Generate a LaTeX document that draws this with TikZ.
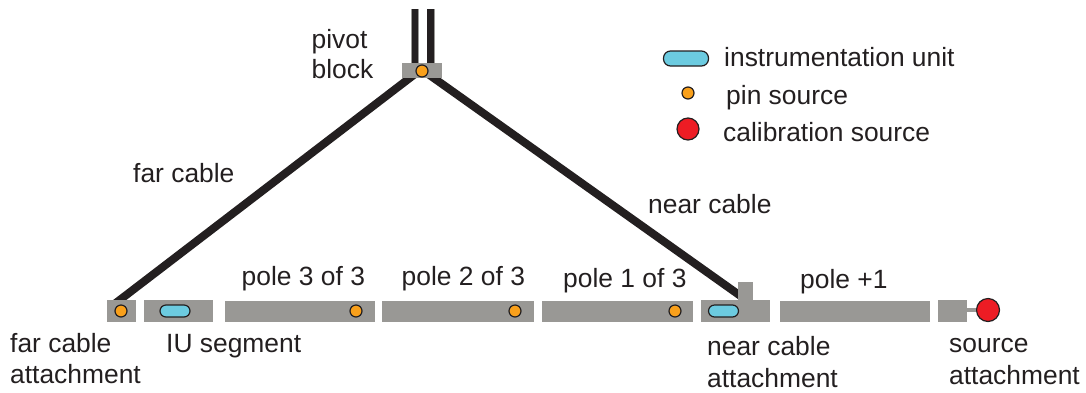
\documentclass[tikz,border=0pt]{standalone}
\usepackage{fontspec}
\setmainfont{Liberation Sans}
\usetikzlibrary{backgrounds}
\definecolor{polegray}{HTML}{999895}
\definecolor{cableblack}{HTML}{231F20}
\definecolor{pinorange}{HTML}{F9A01B}
\definecolor{iublue}{HTML}{6CCBE0}
\definecolor{calred}{HTML}{ED1C24}
\tikzset{
  seg/.style={fill=polegray, inner sep=0pt, minimum height=22pt},
  pin/.style={circle, draw=cableblack, line width=1.2pt, fill=pinorange, inner sep=0pt, minimum size=12pt},
  calsource/.style={circle, draw=cableblack, line width=1.2pt, fill=calred, inner sep=0pt, minimum size=23pt},
  iu/.style={rounded corners=6pt, draw=cableblack, line width=1.2pt, fill=iublue, inner sep=0pt},
  cable/.style={line width=8pt, cableblack, shorten <=-6pt, shorten >=-6pt},
  wire/.style={line width=6.5pt, cableblack},
  wireedge/.style={line width=8pt, polegray},
  lab/.style={anchor=base west, inner sep=0pt, text=cableblack, font=\fontsize{26.4}{30}\selectfont},
}
\begin{document}
\begin{tikzpicture}[x=1pt,y=-1pt]
\useasboundingbox (0,0) rectangle (1086,392);
\node[seg, minimum width=40pt, minimum height=15pt] (pivot) at (422,70.5) {};
\node[seg, minimum width=29pt] (farattach) at (121.5,311) {};
\node[seg, minimum width=69pt] (iuseg) at (178.5,311) {};
\node[seg, minimum width=150pt, minimum height=21pt] (pole3) at (300,311.5) {};
\node[seg, minimum width=152pt, minimum height=21pt] (pole2) at (458,311.5) {};
\node[seg, minimum width=151pt, minimum height=21pt] (pole1) at (617.5,311.5) {};
\node[seg, minimum width=69pt] (nearattach) at (735.5,311) {};
\node[seg, minimum width=15pt, minimum height=18pt] (nearstub) at (745.5,291) {};
\node[seg, minimum width=150pt, minimum height=21pt] (poleplus) at (855,311.5) {};
\node[seg, minimum width=29pt] (srcattach) at (952.5,311) {};
\coordinate (wirel) at (414.5,9);
\coordinate (wirer) at (431,9);
\draw[wireedge] (wirel) -- (wirel |- pivot.north);
\draw[wireedge] (wirer) -- (wirer |- pivot.north);
\draw[wire] ([xshift=0.7pt]wirel) -- ([xshift=0.7pt]wirel |- pivot.north);
\draw[wire] ([xshift=-0.7pt]wirer) -- ([xshift=-0.7pt]wirer |- pivot.north);
\begin{scope}[on background layer]
\draw[cable] ([xshift=-12.5pt]pivot.south) -- ([xshift=-1.5pt]farattach.north);
\draw[cable] ([xshift=12pt]pivot.south) -- ([yshift=-3pt]nearstub.west);
\end{scope}
\node[calsource] (calpin) at (988,310) {};
\draw[polegray, line width=4pt] (srcattach.east |- calpin) -- (calpin.west);
\node[pin] (pivotpin) at (422,71) {};
\node[pin] (farpin) at (121,311) {};
\node[pin] (pin3) at (356,311) {};
\node[pin] (pin2) at (515,311) {};
\node[pin] (pin1) at (675,311) {};
\node[iu, minimum width=30pt, minimum height=12pt] (iufar) at (175,311) {};
\node[iu, minimum width=30pt, minimum height=12pt] (iunear) at (723.5,311) {};
\node[iu, minimum width=45pt, minimum height=15pt, rounded corners=7pt] (legiu) at (686,58.5) {};
\node[pin] (legpin) at (688,93) {};
\node[calsource, minimum size=22pt] (legcal) at (688,129) {};
\node[lab] (tpivot) at (311.5,48) {pivot};
\node[lab] (tblock) at (311.5,78) {block};
\node[lab] (tfar) at (133,182) {far cable};
\node[lab] (tnear) at (648,213) {near cable};
\node[lab] (tpole3) at (241.5,285.5) {pole 3 of 3};
\node[lab] (tpole2) at (401.5,285.5) {pole 2 of 3};
\node[lab] (tpole1) at (563,287) {pole 1 of 3};
\node[lab] (tplus) at (800,288) {pole +1};
\node[lab] (tfara) at (10,352) {far cable};
\node[lab] (tfarb) at (10,383) {attachment};
\node[lab] (tiu) at (166,352) {IU segment};
\node[lab] (tneara) at (707,355) {near cable};
\node[lab] (tnearb) at (707,387) {attachment};
\node[lab] (tsrca) at (949,352) {source};
\node[lab] (tsrcb) at (949,384) {attachment};
\node[lab] (legiut) at (724,66) {instrumentation unit};
\node[lab] (legpint) at (726,104) {pin source};
\node[lab] (legcalt) at (723,141) {calibration source};
\end{tikzpicture}
\end{document}
